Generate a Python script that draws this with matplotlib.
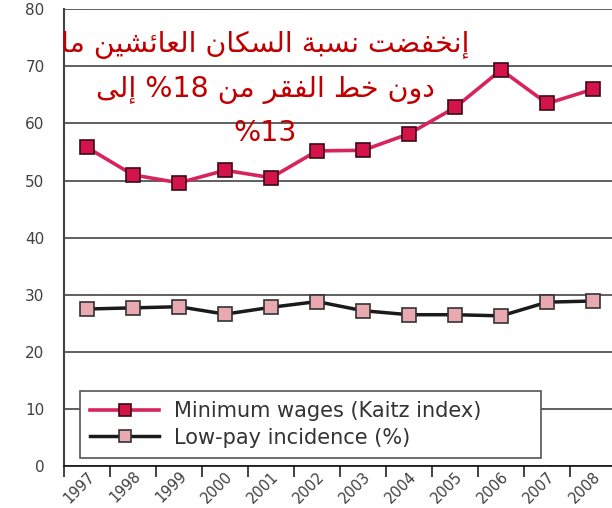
import numpy as np
import matplotlib
matplotlib.use("Agg")
import matplotlib.pyplot as plt

# data
years = ["1997", "1998", "1999", "2000", "2001", "2002",
         "2003", "2004", "2005", "2006", "2007", "2008"]
kaitz = [55.8, 51.0, 49.6, 51.8, 50.5, 55.2, 55.3, 58.2, 62.8, 69.4, 63.5, 66.0]
low_pay = [27.5, 27.7, 27.9, 26.6, 27.8, 28.8, 27.2, 26.5, 26.5, 26.3, 28.7, 28.9]
series_labels = ["Minimum wages (Kaitz index)", "Low-pay incidence (%)"]
note_lines = ["إنخفضت نسبة السكان العائشين ما",
              "دون خط الفقر من 18% إلى",
              "13%"]

# matplotlib does no Arabic shaping, so map letters to presentation forms
# (isolated, final, initial, medial)
FORMS = {
    'ا': (0xFE8D, 0xFE8E, None, None),
    'إ': (0xFE87, 0xFE88, None, None),
    'ئ': (0xFE89, 0xFE8A, 0xFE8B, 0xFE8C),
    'ب': (0xFE8F, 0xFE90, 0xFE91, 0xFE92),
    'ة': (0xFE93, 0xFE94, None, None),
    'ت': (0xFE95, 0xFE96, 0xFE97, 0xFE98),
    'خ': (0xFEA5, 0xFEA6, 0xFEA7, 0xFEA8),
    'د': (0xFEA9, 0xFEAA, None, None),
    'ر': (0xFEAD, 0xFEAE, None, None),
    'س': (0xFEB1, 0xFEB2, 0xFEB3, 0xFEB4),
    'ش': (0xFEB5, 0xFEB6, 0xFEB7, 0xFEB8),
    'ض': (0xFEBD, 0xFEBE, 0xFEBF, 0xFEC0),
    'ط': (0xFEC1, 0xFEC2, 0xFEC3, 0xFEC4),
    'ع': (0xFEC9, 0xFECA, 0xFECB, 0xFECC),
    'ف': (0xFED1, 0xFED2, 0xFED3, 0xFED4),
    'ق': (0xFED5, 0xFED6, 0xFED7, 0xFED8),
    'ك': (0xFED9, 0xFEDA, 0xFEDB, 0xFEDC),
    'ل': (0xFEDD, 0xFEDE, 0xFEDF, 0xFEE0),
    'م': (0xFEE1, 0xFEE2, 0xFEE3, 0xFEE4),
    'ن': (0xFEE5, 0xFEE6, 0xFEE7, 0xFEE8),
    'و': (0xFEED, 0xFEEE, None, None),
    'ى': (0xFEEF, 0xFEF0, None, None),
    'ي': (0xFEF1, 0xFEF2, 0xFEF3, 0xFEF4),
}


def shape_word(word):
    out = []
    for i, ch in enumerate(word):
        f = FORMS.get(ch)
        if f is None:
            out.append(ch)
            continue
        prev = word[i - 1] if i > 0 else None
        nxt = word[i + 1] if i + 1 < len(word) else None
        jp = prev in FORMS and FORMS[prev][2] is not None
        jn = nxt in FORMS and f[2] is not None
        if jp and jn:
            cp = f[3]
        elif jp:
            cp = f[1]
        elif jn:
            cp = f[2]
        else:
            cp = f[0]
        out.append(chr(cp))
    return "".join(out)


def visual(line):
    toks = []
    for tok in reversed(line.split(" ")):
        if any(c in FORMS for c in tok):
            toks.append(shape_word(tok)[::-1])
        elif tok.endswith("%"):
            toks.append("%" + tok[:-1])
        else:
            toks.append(tok)
    return " ".join(toks)


fig = plt.figure(figsize=(6.12, 5.08), dpi=100)
ax = fig.add_axes([64 / 612, 42 / 508, 548 / 612, 456.7 / 508])

x = np.arange(len(years)) + 0.5
ax.plot(x, kaitz, color="#d8245c", lw=2.6, marker="s", ms=10,
        mfc="#d4134a", mec="#3a0a15", mew=1.2, label=series_labels[0], zorder=3)
ax.plot(x, low_pay, color="#1a1a1a", lw=2.5, marker="s", ms=10,
        mfc="#e8aab0", mec="#333333", mew=1.2, label=series_labels[1], zorder=3)

ax.set_xlim(0, 11.91)
ax.set_ylim(0, 80)
ax.set_yticks(range(0, 81, 10))
ax.grid(axis="y", color="#444444", lw=1.2)
ax.set_axisbelow(True)
ax.tick_params(axis="y", length=0, pad=14, labelsize=11, labelcolor="#404040")

ax.set_xticks(np.arange(len(years)))
ax.set_xticklabels([])
ax.tick_params(axis="x", which="major", length=8, width=1.2, color="#222222")
ax.set_xticks(x, minor=True)
ax.set_xticklabels(years, minor=True, rotation=45, ha="right",
                   rotation_mode="anchor", fontsize=10.5, color="#404040")
ax.tick_params(axis="x", which="minor", length=0, pad=2)

for s in ["top", "right"]:
    ax.spines[s].set_visible(False)
ax.spines["left"].set_color("#444444")
ax.spines["left"].set_linewidth(1.5)
ax.spines["bottom"].set_color("#111111")
ax.spines["bottom"].set_linewidth(1.2)

leg = ax.legend(loc="lower left",
                bbox_to_anchor=(80 / 612, 50 / 508, 461 / 612, 66 / 508),
                bbox_transform=fig.transFigure, borderaxespad=0, mode="expand",
                fancybox=False, fontsize=15, handlelength=3.3,
                handletextpad=0.7, markerscale=0.85,
                labelspacing=0.3, borderpad=0.5, framealpha=1)
leg.get_frame().set_edgecolor("#555555")
leg.get_frame().set_linewidth(1.2)
for t in leg.get_texts():
    t.set_color("#333333")

for line, yc in zip(note_lines, [45, 90, 133]):
    fig.text(265 / 612, 1 - yc / 508, visual(line), ha="center", va="center",
             color="#c00000", fontsize=20.5, family="DejaVu Sans", zorder=5)

fig.savefig("out.png", dpi=100)
